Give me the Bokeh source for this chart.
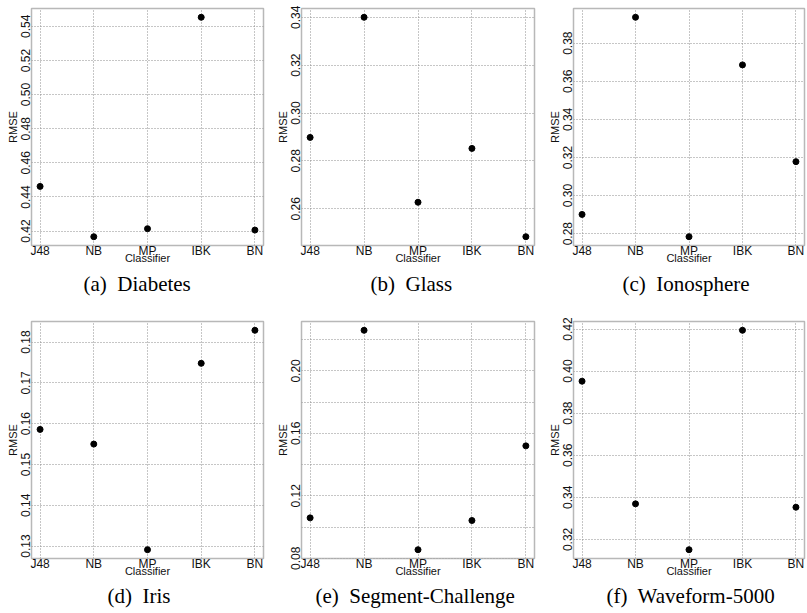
import math
from bokeh.plotting import figure
from bokeh.layouts import column, row
from bokeh.models import Range1d, Title
from bokeh.embed import file_html
from bokeh.resources import INLINE

classifiers = ["J48", "NB", "MP", "IBK", "BN"]
x_pos = [1, 2, 3, 4, 5]

diabetes = [0.4462, 0.4167, 0.4214, 0.5453, 0.4206]
glass = [0.2898, 0.3400, 0.2627, 0.2852, 0.2483]
ionosphere = [0.2901, 0.3936, 0.2784, 0.3686, 0.3178]
iris = [0.1586, 0.1550, 0.1291, 0.1748, 0.1829]
segment = [0.1059, 0.2260, 0.0855, 0.1042, 0.1520]
waveform = [0.3952, 0.3369, 0.3151, 0.4194, 0.3353]

ticks_a = [0.42, 0.44, 0.46, 0.48, 0.50, 0.52, 0.54]
labels_a = ["0.42", "0.44", "0.46", "0.48", "0.50", "0.52", "0.54"]
ticks_b = [0.26, 0.28, 0.30, 0.32, 0.34]
labels_b = ["0.26", "0.28", "0.30", "0.32", "0.34"]
ticks_c = [0.28, 0.30, 0.32, 0.34, 0.36, 0.38]
labels_c = ["0.28", "0.30", "0.32", "0.34", "0.36", "0.38"]
ticks_d = [0.13, 0.14, 0.15, 0.16, 0.17, 0.18]
labels_d = ["0.13", "0.14", "0.15", "0.16", "0.17", "0.18"]
ticks_e = [0.08, 0.10, 0.12, 0.14, 0.16, 0.18, 0.20, 0.22]
labels_e = ["0.08", "", "0.12", "", "0.16", "", "0.20", ""]
ticks_f = [0.32, 0.34, 0.36, 0.38, 0.40, 0.42]
labels_f = ["0.32", "0.34", "0.36", "0.38", "0.40", "0.42"]

GAP = "\u00a0 "
captions = ["(a)" + GAP + "Diabetes", "(b)" + GAP + "Glass", "(c)" + GAP + "Ionosphere",
            "(d)" + GAP + "Iris", "(e)" + GAP + "Segment-Challenge", "(f)" + GAP + "Waveform-5000"]

SANS = "Liberation Sans"
SERIF = "Liberation Serif"


def panel(vals, yticks, ylabels, caption, width, height, bl, br, bt, bb,
          cap_standoff, cap_offset):
    lo, hi = min(vals), max(vals)
    pad = 0.04 * (hi - lo)
    p = figure(width=width, height=height,
               x_range=Range1d(x_pos[0] - 0.16, x_pos[-1] + 0.16),
               y_range=Range1d(lo - pad, hi + pad),
               output_backend="svg", toolbar_location=None, title_location=None,
               min_border_left=bl, min_border_right=br,
               min_border_top=bt, min_border_bottom=bb)
    p.background_fill_color = "white"
    p.border_fill_color = "white"
    p.outline_line_color = "#b8b8b8"
    p.outline_line_width = 1.5

    p.scatter(x_pos, vals, size=6, color="black")

    p.xaxis.ticker = x_pos
    p.xaxis.major_label_overrides = {x: c for x, c in zip(x_pos, classifiers)}
    p.yaxis.ticker = yticks
    p.yaxis.major_label_overrides = {t: l for t, l in zip(yticks, ylabels)}

    for ax in (p.xaxis[0], p.yaxis[0]):
        ax.axis_line_color = None
        ax.major_tick_line_color = None
        ax.minor_tick_line_color = None
        ax.major_tick_in = 0
        ax.major_tick_out = 0
        ax.major_label_text_font = SANS
        ax.major_label_text_font_size = "12px"
        ax.major_label_text_color = "#111111"
        ax.axis_label_text_font = SANS
        ax.axis_label_text_font_style = "normal"
        ax.axis_label_text_font_size = "11px"
        ax.axis_label_text_color = "#111111"

    p.xaxis.axis_label = "Classifier"
    p.xaxis.major_label_standoff = -2
    p.xaxis.axis_label_standoff = -9
    p.yaxis.axis_label = "RMSE"
    p.yaxis.major_label_orientation = "vertical"
    p.yaxis.major_label_standoff = 1
    p.yaxis.axis_label_standoff = 0

    for g in (p.xgrid[0], p.ygrid[0]):
        g.grid_line_color = "#8c8c8c"
        g.grid_line_dash = "1 2"
        g.grid_line_width = 1

    t = Title(text=caption, align="left", offset=cap_offset, text_font=SERIF,
              text_font_size="21px", text_font_style="normal",
              text_color="black", standoff=cap_standoff)
    p.add_layout(t, "below")
    return p


# column figures span x: 0-270, 270-537, 537-807 ; rows span y: 0-306, 306-613
pa = panel(diabetes, ticks_a, labels_a, captions[0], 270, 306, 31, 7, 8, 61, 6, 52)
pb = panel(glass, ticks_b, labels_b, captions[1], 267, 306, 31, 3, 8, 61, 6, 69)
pc = panel(ionosphere, ticks_c, labels_c, captions[2], 270, 306, 36, 3, 8, 61, 6, 49)
pd = panel(iris, ticks_d, labels_d, captions[3], 270, 307, 31, 7, 15, 55, 4, 76)
pe = panel(segment, ticks_e, labels_e, captions[4], 267, 307, 31, 3, 15, 55, 4, 14)
pf = panel(waveform, ticks_f, labels_f, captions[5], 270, 307, 36, 3, 15, 55, 4, 33)

layout = column(row(pa, pb, pc), row(pd, pe, pf))

open("out.html", "w").write(file_html(layout, INLINE))
